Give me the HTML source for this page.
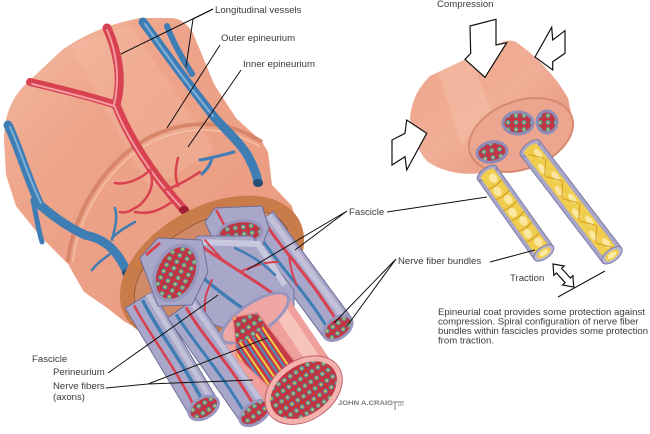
<!DOCTYPE html>
<html><head><meta charset="utf-8">
<style>
html,body{margin:0;padding:0;background:#fff;}
svg{display:block}
text{font-family:"Liberation Sans",sans-serif;font-size:9.6px;fill:#3a3a3a}
</style></head><body>
<svg width="650" height="434" viewBox="0 0 650 434" xmlns="http://www.w3.org/2000/svg">
<defs>
<pattern id="dots" width="8" height="7" patternUnits="userSpaceOnUse">
 <rect width="8" height="7" fill="#c2343f"/>
 <circle cx="4" cy="3.5" r="2.4" fill="#4c9db0"/>
 <circle cx="4" cy="3.5" r="1.1" fill="#e7c23a"/>
</pattern>
<linearGradient id="salm" x1="0" y1="0" x2="1" y2="1">
 <stop offset="0" stop-color="#f3bba4"/>
 <stop offset="0.3" stop-color="#eea58b"/>
 <stop offset="1" stop-color="#e8987e"/>
</linearGradient>
<linearGradient id="rsalm" x1="0" y1="0" x2="1" y2="1">
 <stop offset="0" stop-color="#eea58b"/>
 <stop offset="0.5" stop-color="#f0ae96"/>
 <stop offset="1" stop-color="#e38f76"/>
</linearGradient>
<clipPath id="cut"><polygon points="-3,-5 78,-10 84,23 22,37 -13,18"/></clipPath>
</defs>

<!-- ============ BIG NERVE ============ -->
<path d="M4,140 C4,112 14,94 30,80 L62,50 C85,34 110,24 140,18 L172,18 C182,19 188,25 193,33 L214,84 L236,118 L262,142 L268,152 L272,185 L292,206 L296,222 L240,300 L150,335 L125,322 L106,307 L84,292 L68,264 L40,236 L16,206 L6,175 Z" fill="url(#salm)"/>
<path d="M70,45 L130,25 L215,150 L150,190 Z" fill="#f8cdb8" opacity="0.2"/>
<!-- ridge outer/inner epineurium -->
<path d="M68,262 C72,215 105,160 150,137 C185,120 225,118 262,142" fill="none" stroke="#d8866a" stroke-width="4"/>
<path d="M73,262 C77,218 108,165 152,142 C186,126 224,124 260,147" fill="none" stroke="#f5c0a6" stroke-width="1.5"/>

<!-- vessels outer -->
<g fill="none" stroke-linecap="round">
 <path d="M107,28 C116,48 124,75 116,105 C128,135 150,172 184,210" stroke="#d8414f" stroke-width="9"/>
 <path d="M30,82 C55,88 90,96 116,105" stroke="#d8414f" stroke-width="8"/>
 <path d="M107,30 C115,48 121,75 114,105 C126,135 148,172 182,208" stroke="#f39aa2" stroke-width="2"/>
 <path d="M32,84 C56,90 90,98 114,106" stroke="#f39aa2" stroke-width="2"/>
 <path d="M143,22 C160,45 185,80 215,118 C228,132 245,148 250,160 C255,170 257,176 258,182" stroke="#3f7db5" stroke-width="9"/>
 <path d="M167,26 C172,40 180,55 192,74" stroke="#3f7db5" stroke-width="6"/>
 <path d="M145,24 C160,46 184,80 213,116" stroke="#7fb0d8" stroke-width="2"/>
 <path d="M8,125 C18,145 28,180 40,205 C55,218 70,228 85,235 C100,238 115,245 127,272" stroke="#3f7db5" stroke-width="9"/>
 <path d="M10,127 C19,146 29,180 41,203" stroke="#7fb0d8" stroke-width="2"/>
 <path d="M33,200 C36,215 38,228 42,242" stroke="#3f7db5" stroke-width="5"/>
 <path d="M112,240 C115,228 118,218 115,208 M112,238 C120,230 128,226 135,222 M115,250 C105,258 98,262 92,270" stroke="#3f7db5" stroke-width="2.5"/>
 <path d="M200,160 C212,158 222,155 234,152 M212,158 C210,166 206,170 202,174" stroke="#3f7db5" stroke-width="3"/>
 <path d="M150,170 C140,180 125,185 115,183 M150,170 C155,185 150,195 140,205 M165,190 C180,185 190,178 200,172 M172,202 C160,210 150,215 135,212 M178,158 C175,170 175,178 178,186 M140,205 C132,210 126,214 120,212" stroke="#d8414f" stroke-width="2.5"/>
</g>
<ellipse cx="184" cy="210" rx="5" ry="4" fill="#9c2030"/>
<ellipse cx="258" cy="183" rx="5" ry="4" fill="#244f7a"/>
<ellipse cx="127" cy="273" rx="5" ry="4" fill="#244f7a"/>

<!-- ring cut face -->
<ellipse cx="212" cy="268" rx="93" ry="55" transform="rotate(-29 212 268)" fill="#d08a68" stroke="#c97b4a" stroke-width="13"/>
<ellipse cx="212" cy="268" rx="85" ry="47" transform="rotate(-29 212 268)" fill="none" stroke="#a8643a" stroke-width="1.5"/>

<!-- Fascicle B (long right) -->
<g transform="translate(262,225) rotate(53.6)">
 <rect x="-4" y="-17" width="132" height="34" fill="#a9a7c9" stroke="#6f6e98" stroke-width="1"/>
 <rect x="-4" y="-14" width="132" height="6" fill="#c9c8de" opacity=".8"/>
 <path d="M0,-4 C30,-1 60,-8 128,-3" stroke="#d8414f" stroke-width="3" fill="none"/>
 <path d="M0,8 C40,11 80,4 128,9" stroke="#3f7db5" stroke-width="3" fill="none"/>
 <path d="M40,-4 C50,2 60,6 70,8" stroke="#d8414f" stroke-width="2" fill="none"/>
 <ellipse cx="128" cy="0" rx="10" ry="16" fill="url(#dots)" stroke="#9896bd" stroke-width="3"/>
</g>

<!-- Fascicle A (top stub) -->
<path d="M205,222 L215,208 L262,206 L269,228 L262,246 L218,251 Z" fill="#a9a7c9" stroke="#6f6e98"/>
<path d="M216,210 C220,216 222,222 226,228" stroke="#d8414f" stroke-width="2.5" fill="none"/>
<ellipse cx="240" cy="233" rx="22" ry="12" transform="rotate(-8 240 233)" fill="url(#dots)" stroke="#9896bd" stroke-width="3"/>

<!-- Fascicle D (middle) -->
<path d="M183,255 L198,236 L252,236 L294,290 L294,312 L250,336 L205,322 L182,292 Z" fill="#a9a7c9" stroke="#6f6e98"/>
<path d="M200,242 L258,244 L285,285" stroke="#c9c8de" stroke-width="6" fill="none"/>
<g fill="none" stroke-linecap="round">
 <path d="M200,245 C220,260 240,270 282,300" stroke="#d8414f" stroke-width="3"/>
 <path d="M190,266 C210,285 230,300 262,322" stroke="#3f7db5" stroke-width="3.5"/>
 <path d="M225,262 C215,252 210,246 205,240 M240,272 C255,265 265,262 278,262 M212,280 C206,292 204,300 205,312" stroke="#d8414f" stroke-width="2"/>
 <path d="M235,248 C250,255 262,262 275,275" stroke="#3f7db5" stroke-width="2.5"/>
</g>

<!-- Fascicle F (lower left) -->
<g transform="translate(142,305) rotate(59)">
 <rect x="-6" y="-16" width="126" height="32" fill="#a9a7c9" stroke="#6f6e98"/>
 <rect x="-6" y="-13" width="126" height="5" fill="#c9c8de" opacity=".8"/>
 <path d="M-4,-3 C30,0 70,-6 120,-2" stroke="#3f7db5" stroke-width="3.5" fill="none"/>
 <path d="M-4,7 C30,9 70,3 120,8" stroke="#d8414f" stroke-width="2.5" fill="none"/>
 <ellipse cx="120" cy="0" rx="10" ry="16" fill="url(#dots)" stroke="#9896bd" stroke-width="3"/>
</g>

<!-- Fascicle G -->
<g transform="translate(185,313) rotate(55)">
 <rect x="-6" y="-17" width="128" height="34" fill="#a9a7c9" stroke="#6f6e98"/>
 <rect x="-6" y="-14" width="128" height="5" fill="#c9c8de" opacity=".8"/>
 <path d="M-4,-4 C30,-1 70,-8 122,-3" stroke="#d8414f" stroke-width="3" fill="none"/>
 <path d="M-4,8 C30,10 70,4 122,9" stroke="#3f7db5" stroke-width="3" fill="none"/>
 <ellipse cx="122" cy="0" rx="10" ry="17" fill="url(#dots)" stroke="#9896bd" stroke-width="3"/>
</g>

<!-- Fascicle C (left stub) -->
<path d="M140,258 L158,238 L202,240 L208,272 L192,305 L158,306 Z" fill="#a9a7c9" stroke="#6f6e98"/>
<path d="M146,255 L160,243" stroke="#d8414f" stroke-width="3"/>
<ellipse cx="176" cy="273" rx="20" ry="29" transform="rotate(25 176 273)" fill="url(#dots)" stroke="#9896bd" stroke-width="3.5"/>

<!-- Fascicle E (big front, pink) -->
<g transform="translate(255,318) rotate(56)">
 <rect x="0" y="-39" width="87" height="78" fill="#ef9f9c"/>
 <rect x="0" y="-32" width="87" height="14" fill="#f7c3bb"/>
 <ellipse cx="0" cy="0" rx="15" ry="39" fill="#eea7a5" stroke="#9896bd" stroke-width="3"/>
 <g clip-path="url(#cut)">
  <rect x="-20" y="-20" width="120" height="70" fill="#c53a48"/>
  <g stroke-width="2" fill="none">
   <path d="M-20,-1 H110" stroke="#f0d040"/>
   <path d="M-20,3 H110" stroke="#4c8fc0"/>
   <path d="M-20,8 H110" stroke="#f0d040"/>
   <path d="M-20,12 H110" stroke="#4c8fc0"/>
   <path d="M-20,17 H110" stroke="#f0d040"/>
   <path d="M-20,21 H110" stroke="#4c8fc0"/>
   <path d="M-20,26 H110" stroke="#f0d040"/>
   <path d="M-20,30 H110" stroke="#4c8fc0"/>
   <path d="M-20,35 H110" stroke="#f0d040"/>
  </g>
  <ellipse cx="2" cy="12" rx="12" ry="22" fill="url(#dots)"/>
 </g>
 <polygon points="-3,-5 78,-10 84,23 22,37 -13,18" fill="none" stroke="#e88a8a" stroke-width="1.5"/>
 <ellipse cx="87" cy="0" rx="27" ry="39" fill="url(#dots)" stroke="#f3b2ae" stroke-width="5"/>
 <ellipse cx="87" cy="0" rx="30" ry="42" fill="none" stroke="#c0606a" stroke-width="1"/>
</g>

<!-- ============ RIGHT SMALL NERVE ============ -->
<path d="M410,118 C412,100 418,88 430,76 L500,43 C506,40 512,40 516,42 C535,55 555,75 568,98 L572,118 L530,168 L480,173 C460,176 440,170 428,162 C418,152 412,136 410,118 Z" fill="url(#rsalm)"/>
<path d="M438,72 L470,57 L492,112 L462,146 Z" fill="#f6c4ae" opacity="0.45"/>
<ellipse cx="521" cy="135" rx="54" ry="34" transform="rotate(-20 521 135)" fill="#eca58e" stroke="#d88a70" stroke-width="2"/>
<ellipse cx="518" cy="123" rx="15" ry="11" fill="url(#dots)" stroke="#8e8cb6" stroke-width="3"/>
<ellipse cx="547" cy="122" rx="10" ry="11" fill="url(#dots)" stroke="#8e8cb6" stroke-width="3"/>
<ellipse cx="492" cy="152" rx="15" ry="10" transform="rotate(-10 492 152)" fill="url(#dots)" stroke="#8e8cb6" stroke-width="3"/>

<!-- tube 2 -->
<g transform="translate(530,148) rotate(52.6)">
 <rect x="0" y="-12" width="135" height="24" fill="#a9a7c9" stroke="#7e7ca6"/>
 <ellipse cx="0" cy="0" rx="5" ry="12" fill="#a9a7c9" stroke="#7e7ca6"/>
 <rect x="0" y="-8" width="135" height="16" fill="#f0cd4c"/>
 <ellipse cx="1" cy="0" rx="3" ry="8" fill="#f0cd4c"/>
 <g fill="#fbe7a0">
  <ellipse cx="10" cy="-3" rx="6" ry="3"/><ellipse cx="24" cy="3" rx="6" ry="3"/>
  <ellipse cx="38" cy="-3" rx="6" ry="3"/><ellipse cx="52" cy="3" rx="6" ry="3"/>
  <ellipse cx="66" cy="-3" rx="6" ry="3"/><ellipse cx="80" cy="3" rx="6" ry="3"/>
  <ellipse cx="94" cy="-3" rx="6" ry="3"/><ellipse cx="108" cy="3" rx="6" ry="3"/>
  <ellipse cx="122" cy="-3" rx="6" ry="3"/>
 </g>
 <path d="M4,5 L17,-5 M18,-6 L31,5 M32,5 L45,-5 M46,-6 L59,5 M60,5 L73,-5 M74,-6 L87,5 M88,5 L101,-5 M102,-6 L115,5 M116,5 L129,-5" stroke="#d4a32a" stroke-width="1.2" fill="none"/>
 <ellipse cx="135" cy="0" rx="6" ry="12" fill="#b8b6d4" stroke="#7e7ca6"/>
 <ellipse cx="135" cy="0" rx="4" ry="8" fill="#f0cd4c"/>
 <ellipse cx="135" cy="0" rx="2.5" ry="5" fill="#fbe9a8"/>
</g>
<!-- tube 1 -->
<g transform="translate(487,173) rotate(54.6)">
 <rect x="0" y="-11.5" width="98" height="23" fill="#a9a7c9" stroke="#7e7ca6"/>
 <ellipse cx="0" cy="0" rx="5" ry="11.5" fill="#a9a7c9" stroke="#7e7ca6"/>
 <rect x="0" y="-8" width="98" height="16" fill="#f0cd4c"/>
 <ellipse cx="1" cy="0" rx="3" ry="8" fill="#f0cd4c"/>
 <g fill="#fbe7a0">
  <ellipse cx="8" cy="-2" rx="5" ry="4"/><ellipse cx="21" cy="2" rx="5" ry="4"/>
  <ellipse cx="34" cy="-2" rx="5" ry="4"/><ellipse cx="47" cy="2" rx="5" ry="4"/>
  <ellipse cx="60" cy="-2" rx="5" ry="4"/><ellipse cx="73" cy="2" rx="5" ry="4"/>
  <ellipse cx="86" cy="-2" rx="5" ry="4"/>
 </g>
 <path d="M14,-8 C16,0 15,5 14,8 M27,-8 C29,0 28,5 27,8 M40,-8 C42,0 41,5 40,8 M53,-8 C55,0 54,5 53,8 M66,-8 C68,0 67,5 66,8 M79,-8 C81,0 80,5 79,8" stroke="#d4a32a" stroke-width="1.3" fill="none"/>
 <ellipse cx="98" cy="0" rx="6" ry="11.5" fill="#b8b6d4" stroke="#7e7ca6"/>
 <ellipse cx="98" cy="0" rx="4" ry="8" fill="#f0cd4c"/>
 <ellipse cx="98" cy="0" rx="2.5" ry="5" fill="#fbe9a8"/>
</g>

<!-- arrows -->
<g fill="#fff" stroke="#111" stroke-width="1.2" stroke-linejoin="miter">
 <polygon points="470,26 470.7,53.3 465,59.3 485,77.3 506.7,42.7 496,45 496,19.3"/>
 <polygon points="535,57 551.7,27.3 552.7,40 565,30.7 565,53.3 552.7,61.7 552.7,70"/>
 <polygon points="392,140 405,133.3 406.7,120 426.7,133.3 406.7,170 405,156.7 392,165"/>
 <polygon transform="translate(553,264) rotate(48)" points="0,0 9,-7 9,-3.5 22,-3.5 22,-7 31,0 22,7 22,3.5 9,3.5 9,7"/>
</g>

<!-- leader lines -->
<g stroke="#111" stroke-width="1" fill="none">
 <path d="M213,9 L121,54"/>
 <path d="M213,9 L193,19 L186,67"/>
 <path d="M220,45 L167,128"/>
 <path d="M241,70 L188,147"/>
 <path d="M347,211 L247,270 M347,211 L295,250"/>
 <path d="M387,212 L487,197"/>
 <path d="M396,259 L334,323 M396,259 L347,326"/>
 <path d="M490,262 L535,250"/>
 <path d="M108,373 L218,295"/>
 <path d="M106,388 L148,384 L267,338 M148,384 L253,380"/>
 <path d="M558,297 L605,271"/>
</g>

<!-- labels -->
<text x="215" y="13">Longitudinal vessels</text>
<text x="221" y="41">Outer epineurium</text>
<text x="243" y="67">Inner epineurium</text>
<text x="437" y="7">Compression</text>
<text x="349" y="215">Fascicle</text>
<text x="398" y="264">Nerve fiber bundles</text>
<text x="510" y="281">Traction</text>
<text x="32" y="362">Fascicle</text>
<text x="53" y="375">Perineurium</text>
<text x="53" y="389">Nerve fibers</text>
<text x="53" y="400">(axons)</text>
<text x="438" y="315">Epineurial coat provides some protection against</text>
<text x="438" y="324.5">compression. Spiral configuration of nerve fiber</text>
<text x="438" y="334">bundles within fascicles provides some protection</text>
<text x="438" y="343.5">from traction.</text>

<!-- signature -->
<text x="338" y="405" style="font-size:6.5px;font-weight:bold;fill:#7a7a7a" textLength="55" lengthAdjust="spacingAndGlyphs">JOHN A.CRAIG</text>
<path d="M393,402 L404,402 M395,402 L395,410" stroke="#7a7a7a" stroke-width="1"/>
<text x="398" y="406" style="font-size:4px;fill:#7a7a7a">MD</text>
</svg>
</body></html>
